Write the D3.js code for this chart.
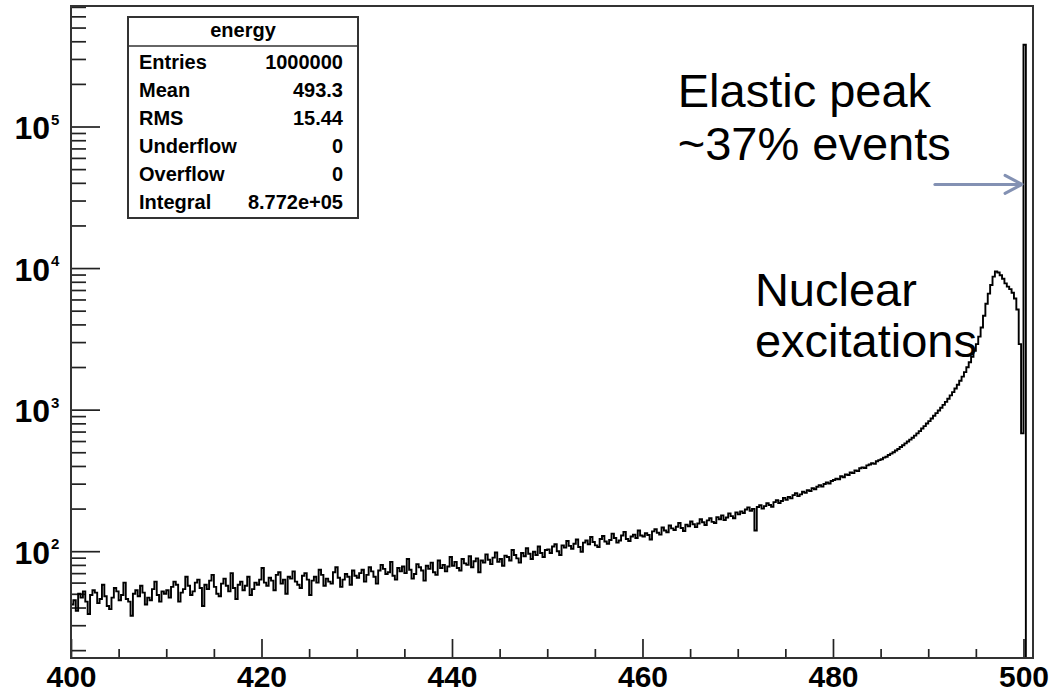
<!DOCTYPE html>
<html>
<head>
<meta charset="utf-8">
<script src="https://cdn.jsdelivr.net/npm/d3@7"></script>
<style>
  body { margin: 0; background: #fff; }
  svg { display: block; font-family: "Liberation Sans", Arial, Helvetica, sans-serif; }
</style>
</head>
<body>
<svg id="chart" width="1051" height="694"></svg>
<script>
// histogram binning
var xMin = 400, xMax = 501, binWidth = 0.25;

// bin contents, 40 bins per 10 units
var counts400 = [42, 45, 38, 50, 47, 52, 44, 36, 49, 53, 51, 43, 46, 58, 48, 41, 39, 47, 55, 52,
  45, 49, 60, 46, 44, 35, 50, 53, 48, 57, 51, 42, 47, 45, 54, 61, 49, 44, 52, 50];
var counts410 = [53, 47, 56, 61, 58, 44, 51, 54, 66, 57, 49, 52, 60, 63, 55, 41, 58, 54, 62, 68,
  56, 50, 48, 59, 64, 57, 52, 70, 55, 46, 58, 61, 53, 57, 66, 49, 54, 60, 58, 63];
var counts420 = [76, 60, 57, 65, 62, 53, 68, 71, 59, 63, 50, 66, 64, 72, 61, 58, 55, 67, 70, 63,
  49, 62, 66, 60, 74, 68, 57, 64, 61, 59, 71, 77, 65, 56, 63, 69, 66, 58, 73, 67];
var counts430 = [65, 70, 74, 61, 68, 77, 72, 66, 59, 73, 80, 75, 69, 71, 84, 67, 63, 76, 72, 78,
  70, 88, 74, 64, 69, 81, 77, 73, 62, 79, 75, 83, 71, 68, 86, 76, 80, 72, 78, 91];
var counts440 = [79, 84, 76, 73, 88, 82, 80, 92, 77, 85, 89, 71, 86, 83, 95, 87, 81, 90, 98, 84,
  88, 79, 93, 91, 86, 102, 94, 89, 83, 97, 92, 105, 96, 88, 99, 94, 108, 97, 91, 102];
var counts450 = [103, 97, 108, 112, 100, 94, 110, 106, 118, 109, 104, 113, 121, 107, 99, 115, 119, 112, 126, 116,
  110, 107, 122, 128, 117, 113, 120, 133, 124, 115, 119, 129, 137, 122, 118, 127, 131, 124, 140, 129];
var counts460 = [127, 134, 130, 121, 138, 143, 135, 131, 147, 140, 136, 152, 145, 141, 149, 158, 146, 139, 154, 150,
  162, 155, 148, 157, 168, 160, 153, 165, 171, 161, 158, 174, 168, 179, 166, 173, 185, 177, 171, 188];
var counts470 = [182, 191, 186, 197, 204, 193, 199, 140, 205, 211, 200, 208, 218, 212, 206, 222, 229, 219, 226, 238,
  231, 242, 236, 249, 257, 245, 252, 263, 258, 270, 266, 279, 274, 285, 293, 286, 298, 306, 301, 313];
var counts480 = [318, 325, 322, 338, 333, 349, 345, 360, 356, 372, 368, 385, 391, 387, 404, 410, 418, 414, 432, 440,
  446, 458, 465, 478, 489, 500, 515, 527, 545, 560, 578, 595, 614, 633, 655, 680, 705, 735, 765, 798];
var counts490 = [830, 865, 905, 945, 985, 1030, 1080, 1135, 1195, 1260, 1330, 1410, 1500, 1600, 1710, 1840, 1990, 2160, 2360, 2600,
  2900, 3280, 3800, 4600, 5600, 6600, 7600, 8700, 9450, 9300, 8900, 8400, 7800, 7400, 7100, 6700, 6100, 5100, 2900, 680];
// elastic peak bin at 500 and the empty bins up to 501
var counts500 = [378000, 0, 0, 0];

var xTicksMajor = [400, 420, 440, 460, 480, 500];
var xTicksMinor = d3.range(400, 501, 5).filter(function(d) { return d % 20 !== 0; });
var yDecades = [2, 3, 4, 5];

var statTitle = 'energy';
var statLabels = ['Entries', 'Mean', 'RMS', 'Underflow', 'Overflow', 'Integral'];
var statValues = ['1000000', '493.3', '15.44', '0', '0', '8.772e+05'];

var peakText = ['Elastic peak', '~37% events'];
var nuclearText = ['Nuclear', 'excitations'];

var counts = [].concat(counts400, counts410, counts420, counts430, counts440,
  counts450, counts460, counts470, counts480, counts490, counts500);

var svg = d3.select('#chart');
var margin = { top: 6, right: 18, bottom: 36, left: 71 };
var width = +svg.attr('width') - margin.left - margin.right;
var height = +svg.attr('height') - margin.top - margin.bottom;

var x = d3.scaleLinear().domain([xMin, xMax]).range([0, width]);
var y = d3.scaleLog().domain([17.6, 7.1e5]).range([height, 0]).clamp(true);

var g = svg.append('g')
  .attr('transform', 'translate(' + margin.left + ',' + margin.top + ')');

/*
 * Axes, ticks pointing inwards like ROOT
 */
var minorY = [];
for (var e = 1; e <= 5; e++) {
  for (var m = 2; m <= 9; m++) {
    var v = m * Math.pow(10, e);
    if (v >= y.domain()[0] && v <= y.domain()[1]) minorY.push(v);
  }
}

function styleAxis(sel) {
  sel.select('.domain').remove();
  sel.selectAll('.tick line').attr('stroke', '#222').attr('stroke-width', 1.7);
}

g.append('g')
  .call(d3.axisLeft(y).tickValues(minorY).tickSize(-15).tickFormat(''))
  .call(styleAxis);
g.append('g')
  .call(d3.axisLeft(y).tickValues(yDecades.map(function(d) { return Math.pow(10, d); })).tickSize(-29).tickFormat(''))
  .call(styleAxis);

g.append('g')
  .attr('transform', 'translate(0,' + height + ')')
  .call(d3.axisBottom(x).tickValues(xTicksMinor).tickSize(-9).tickFormat(''))
  .call(styleAxis);
var xAxis = g.append('g')
  .attr('transform', 'translate(0,' + height + ')')
  .call(d3.axisBottom(x).tickValues(xTicksMajor).tickSize(-19).tickPadding(8).tickFormat(d3.format('d')))
  .call(styleAxis);
xAxis.selectAll('.tick text')
  .attr('fill', '#000')
  .attr('font-size', 30)
  .attr('font-weight', 'bold')
  .attr('font-family', '"Liberation Sans", Arial, sans-serif');

// decade labels 10^n
var yLab = g.append('g').selectAll('.ylab')
  .data(yDecades)
  .enter().append('g')
  .attr('class', 'ylab')
  .attr('transform', function(d) { return 'translate(0,' + y(Math.pow(10, d)) + ')'; });
yLab.append('text')
  .attr('x', -21)
  .attr('y', 12.5)
  .attr('text-anchor', 'end')
  .attr('font-size', 32)
  .attr('font-weight', 'bold')
  .text('10');
yLab.append('text')
  .attr('x', -20)
  .attr('y', -2)
  .attr('font-size', 15)
  .attr('font-weight', 'bold')
  .text(function(d) { return d; });

/*
 * Histogram outline
 */
var steps = counts.map(function(c, i) { return [xMin + i * binWidth, c]; });
steps.push([xMax, counts[counts.length - 1]]);

var line = d3.line()
  .x(function(d) { return x(d[0]); })
  .y(function(d) { return y(Math.max(d[1], y.domain()[0])); })
  .curve(d3.curveStepAfter);

g.append('path')
  .datum(steps)
  .attr('fill', 'none')
  .attr('stroke', '#000')
  .attr('stroke-width', 1.9)
  .attr('d', line);

// frame
g.append('rect')
  .attr('width', width)
  .attr('height', height)
  .attr('fill', 'none')
  .attr('stroke', '#333')
  .attr('stroke-width', 2);

/*
 * Stats box
 */
var box = svg.append('g').attr('transform', 'translate(128,17)');
box.append('rect')
  .attr('width', 230)
  .attr('height', 201)
  .attr('fill', '#fff')
  .attr('stroke', '#333')
  .attr('stroke-width', 2);
box.append('line')
  .attr('x1', 0).attr('x2', 230)
  .attr('y1', 29).attr('y2', 29)
  .attr('stroke', '#333')
  .attr('stroke-width', 1.5);
box.append('text')
  .attr('x', 115)
  .attr('y', 20)
  .attr('text-anchor', 'middle')
  .attr('font-size', 20)
  .attr('font-weight', 'bold')
  .text(statTitle);
var rows = box.selectAll('.row')
  .data(statLabels)
  .enter().append('g')
  .attr('class', 'row')
  .attr('transform', function(d, i) { return 'translate(0,' + (52 + i * 27.9) + ')'; });
rows.append('text')
  .attr('x', 11)
  .attr('font-size', 20)
  .attr('font-weight', 'bold')
  .text(function(d) { return d; });
rows.append('text')
  .attr('x', 215)
  .attr('text-anchor', 'end')
  .attr('font-size', 20)
  .attr('font-weight', 'bold')
  .text(function(d, i) { return statValues[i]; });

/*
 * Annotations
 */
function addNote(lines, xv, yv, lineGap) {
  var t = g.append('text')
    .attr('x', x(xv))
    .attr('y', y(yv))
    .attr('font-size', 47)
    .attr('fill', '#000');
  t.selectAll('tspan')
    .data(lines)
    .enter().append('tspan')
    .attr('x', x(xv))
    .attr('dy', function(d, i) { return i ? lineGap : 0; })
    .text(function(d) { return d; });
}
addNote(peakText, 463.7, 1.38e5, 53);
addNote(nuclearText, 471.8, 5400, 51);

// arrow towards the elastic peak
var arrowY = y(3.9e4);
var tipX = x(499.85);
var arrow = g.append('g')
  .attr('stroke', '#8391b3')
  .attr('stroke-width', 3)
  .attr('fill', 'none')
  .attr('stroke-linecap', 'round');
arrow.append('line')
  .attr('x1', x(490.7)).attr('x2', tipX - 1)
  .attr('y1', arrowY).attr('y2', arrowY);
arrow.append('polyline')
  .attr('points', [[tipX - 17, arrowY - 9], [tipX, arrowY], [tipX - 17, arrowY + 9]].join(' '))
  .attr('stroke-linejoin', 'round');
</script>
</body>
</html>
